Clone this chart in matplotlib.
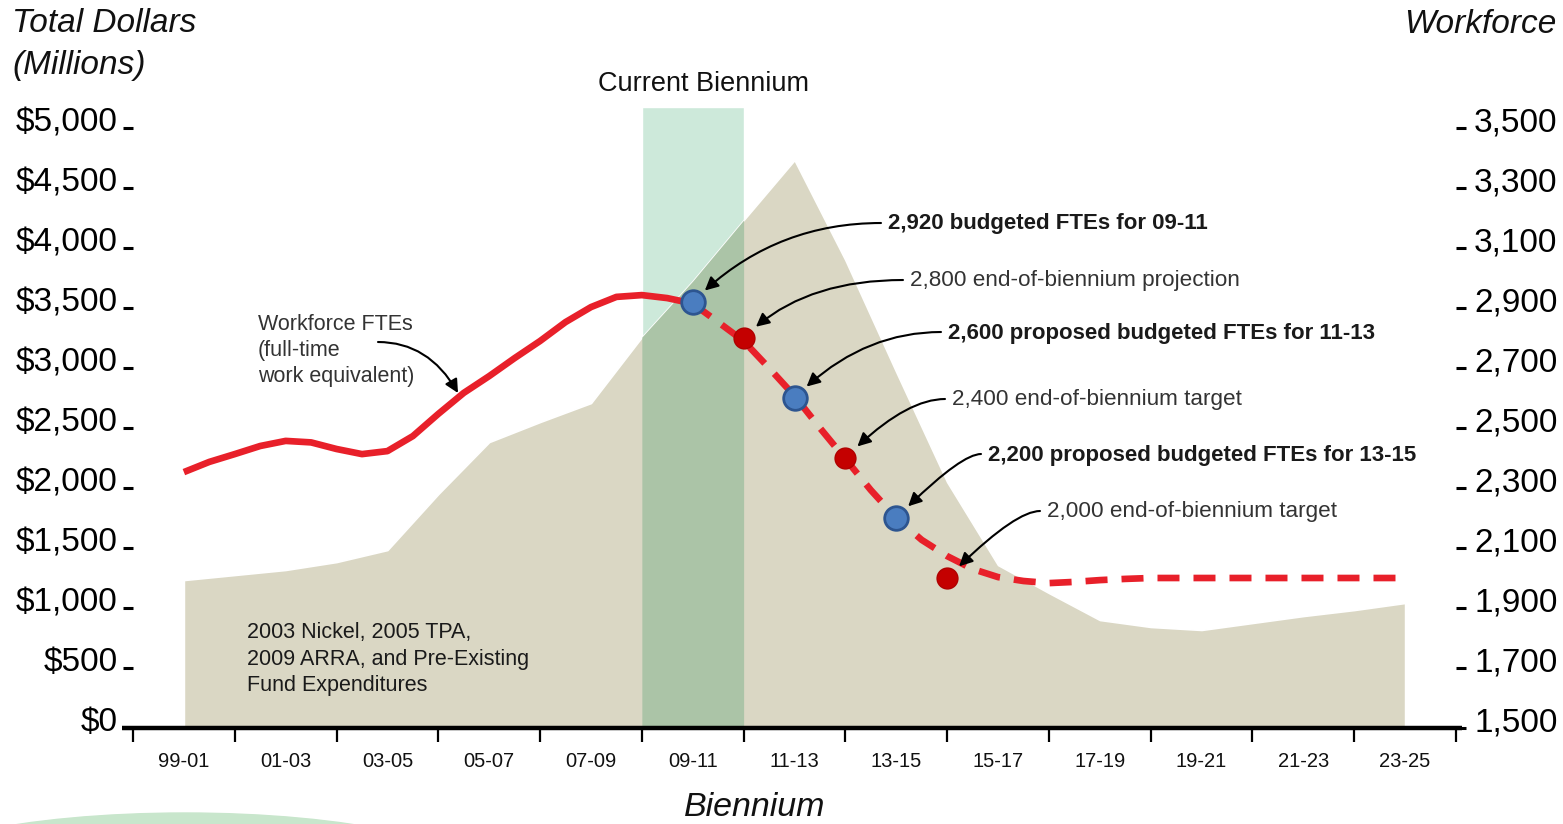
import matplotlib
matplotlib.use("Agg")
import matplotlib.pyplot as plt
from matplotlib.lines import Line2D
from matplotlib.patches import Ellipse
from matplotlib.transforms import ScaledTranslation
import numpy as np

plt.rcParams['font.family'] = ['Liberation Sans', 'DejaVu Sans']

# ---------------- data ----------------
biennia = ['99-01', '01-03', '03-05', '05-07', '07-09', '09-11', '11-13',
           '13-15', '15-17', '17-19', '19-21', '21-23', '23-25']

# Fund expenditures (millions $) read at half-biennium steps
exp_x = [0, 0.5, 1, 1.5, 2, 2.5, 3, 3.5, 4, 4.5, 5, 5.5, 6,
         6.5, 7, 7.5, 8, 8.5, 9, 9.5, 10, 10.5, 11, 11.5, 12]
exp_vals = [1233, 1275, 1317, 1383, 1483, 1950, 2383, 2550, 2708, 3258, 3725, 4233, 4733,
            3900, 2967, 2050, 1358, 1125, 900, 842, 817, 875, 933, 983, 1042]

# Workforce FTEs: actual (solid) read at quarter-biennium steps
fte_actual_x = [0, 0.25, 0.5, 0.75, 1, 1.25, 1.5, 1.75, 2, 2.25, 2.5, 2.75,
                3, 3.25, 3.5, 3.75, 4, 4.25, 4.5, 4.75, 5]
fte_actual = [2353, 2387, 2413, 2440, 2457, 2452, 2430, 2413, 2423, 2473, 2547, 2617,
              2673, 2733, 2790, 2853, 2903, 2937, 2943, 2933, 2915]
# Workforce FTEs: projection (dashed)
fte_proj_x = [5, 5.25, 5.5, 5.75, 6, 6.25, 6.5, 6.75, 7, 7.25, 7.5, 7.75, 8,
              8.25, 8.5, 8.75, 9, 9.25, 9.5, 10, 10.5, 11, 11.5, 12]
fte_proj = [2915, 2853, 2790, 2700, 2607, 2500, 2397, 2293, 2200, 2127, 2073, 2030, 2003,
            1990, 1983, 1987, 1993, 1997, 2000, 2000, 2000, 2000, 2000, 2000]

budget_x = [5, 6, 7]
budget_fte = [2920, 2600, 2200]
target_x = [5.5, 6.5, 7.5]
target_fte = [2800, 2400, 2000]

current_idx = 5  # 09-11

left_ticks = list(range(0, 5001, 500))
right_ticks = list(range(1500, 3501, 200))

notes = ['2,920 budgeted FTEs for 09-11',
         '2,800 end-of-biennium projection',
         '2,600 proposed budgeted FTEs for 11-13',
         '2,400 end-of-biennium target',
         '2,200 proposed budgeted FTEs for 13-15',
         '2,000 end-of-biennium target']
note_bold = [True, False, True, False, True, False]
note_x = [5, 5.5, 6, 6.5, 7, 7.5]
note_y = [2920, 2800, 2600, 2400, 2200, 2000]

# ---------------- figure ----------------
W, H = 1563, 824
fig = plt.figure(figsize=(W / 100, H / 100), dpi=100)
fig.patch.set_facecolor('white')

def fx(px):
    return px / W

def fy(py):
    return 1 - py / H

ax = fig.add_axes([fx(133), fy(728), (1456 - 133) / W, 630 / H])
ax.set_xlim(-0.5, 12.5)
ax.set_ylim(0, 5250)
ax2 = ax.twinx()
ax2.set_ylim(1500, 3600)

# current biennium band
band_top = 5175
ax.fill_between([current_idx - 0.5, current_idx + 0.5], 0, band_top,
                color='#cde9da', edgecolor='white', linewidth=1, zorder=1)

# area
ax.fill_between(exp_x, 0, exp_vals, color='#dad7c4', edgecolor='white',
                linewidth=1.2, zorder=2)
i0 = exp_x.index(current_idx - 0.5)
i1 = exp_x.index(current_idx + 0.5)
ax.fill_between(exp_x[i0:i1 + 1], 0, exp_vals[i0:i1 + 1], color='#abc4a7',
                linewidth=0, zorder=3)

# workforce line
red = '#e8202a'
ax2.plot(fte_actual_x, fte_actual, color=red, lw=4.8, solid_capstyle='butt',
         solid_joinstyle='round', zorder=4)
ax2.plot(fte_proj_x, fte_proj, color=red, lw=4.8, linestyle=(0, (3.3, 2.1)),
         dash_capstyle='butt', dash_joinstyle='round', zorder=4)
ax2.plot(budget_x, budget_fte, 'o', ms=17, mfc='#4a7dc0', mec='#2d5590', mew=2, zorder=6)
ax2.plot(target_x, target_fte, 'o', ms=15, mfc='#c40000', mec='#b00000', mew=1, zorder=6)

# axes styling
for a in (ax, ax2):
    for s in a.spines.values():
        s.set_visible(False)

ax.set_xticks(range(len(biennia)))
ax.set_xticklabels(biennia)
ax.set_xticks(np.arange(-0.5, len(biennia), 1.0), minor=True)
ax.tick_params(axis='x', which='major', length=0, pad=17, labelsize=14.5, colors='#111111')
ax.tick_params(axis='x', which='minor', length=10, width=1.6, direction='out', color='black')

shift = ScaledTranslation(0, -3 / 100, fig.dpi_scale_trans)

ax.set_yticks(left_ticks)
ax.set_yticklabels(['${:,}'.format(v) for v in left_ticks])
ax.tick_params(axis='y', length=7, width=2.2, direction='out', pad=4, labelsize=24,
               color='black')
for lab in ax.get_yticklabels():
    lab.set_va('baseline')
    lab.set_transform(lab.get_transform() + shift)

ax2.set_yticks(right_ticks)
ax2.set_yticklabels(['{:,}'.format(v) for v in right_ticks])
ax2.tick_params(axis='y', length=7, width=2.2, direction='out', pad=6, labelsize=24,
                color='black')
for lab in ax2.get_yticklabels():
    lab.set_va('baseline')
    lab.set_transform(lab.get_transform() + shift)

# bottom axis line
fig.add_artist(Line2D([fx(122), fx(1462)], [fy(728), fy(728)], lw=3.2, color='black',
                      solid_capstyle='butt'))

# decorative ellipse at bottom-left
fig.add_artist(Ellipse((fx(185), fy(880)), 600 / W, 134 / H, transform=fig.transFigure,
                       color='#c8e6cc', zorder=0))

# titles
fig.text(fx(12), fy(8), 'Total Dollars\n(Millions)', style='italic', fontsize=24,
         ha='left', va='top', linespacing=1.45, color='#111111')
fig.text(fx(1556), fy(9), 'Workforce', style='italic', fontsize=24, ha='right', va='top',
         color='#111111')
fig.text(fx(703), fy(84), 'Current Biennium', fontsize=19.5, ha='center', va='center',
         color='#111111')
fig.text(fx(755), fy(808), 'Biennium', style='italic', fontsize=24.5, ha='center',
         va='center', color='#111111')

# annotations
text_px = [(888, 224), (910, 280), (948, 333), (952, 400), (988, 455), (1047, 512)]
start_px = [(881, 223), (903, 280), (941, 332), (945, 399), (981, 454), (1040, 511)]
for txt, b, (tx, ty), (sx, sy), xv, yv in zip(notes, note_bold, text_px, start_px,
                                             note_x, note_y):
    fig.text(fx(tx), fy(ty), txt, fontsize=16 if b else 16.2,
             fontweight='bold' if b else 'normal',
             ha='left', va='center', color='#1a1a1a' if b else '#333333')
    ax2.annotate('', xy=(xv, yv), xycoords='data', xytext=(sx, H - sy),
                 textcoords='figure pixels',
                 arrowprops=dict(arrowstyle='-|>', color='black', lw=1.5,
                                 mutation_scale=20, shrinkA=0, shrinkB=12,
                                 connectionstyle='angle3,angleA=0,angleB=45'),
                 zorder=7)

fig.text(fx(258), fy(314), 'Workforce FTEs\n(full-time\nwork equivalent)', fontsize=15.5,
         ha='left', va='top', linespacing=1.32, color='#333333')
ax2.annotate('', xy=(458, H - 393), xycoords='figure pixels', xytext=(378, H - 342),
             textcoords='figure pixels',
             arrowprops=dict(arrowstyle='-|>', color='black', lw=1.5, mutation_scale=20,
                             shrinkA=0, shrinkB=0,
                             connectionstyle='angle3,angleA=0,angleB=-60'),
             zorder=7)

ax.text(fx(247), fy(659), '2003 Nickel, 2005 TPA,\n2009 ARRA, and Pre-Existing\nFund Expenditures',
        transform=fig.transFigure, fontsize=15.5, ha='left', va='center', linespacing=1.32,
        color='#1a1a1a', zorder=5)

fig.savefig('out.png', dpi=100, facecolor='white')
